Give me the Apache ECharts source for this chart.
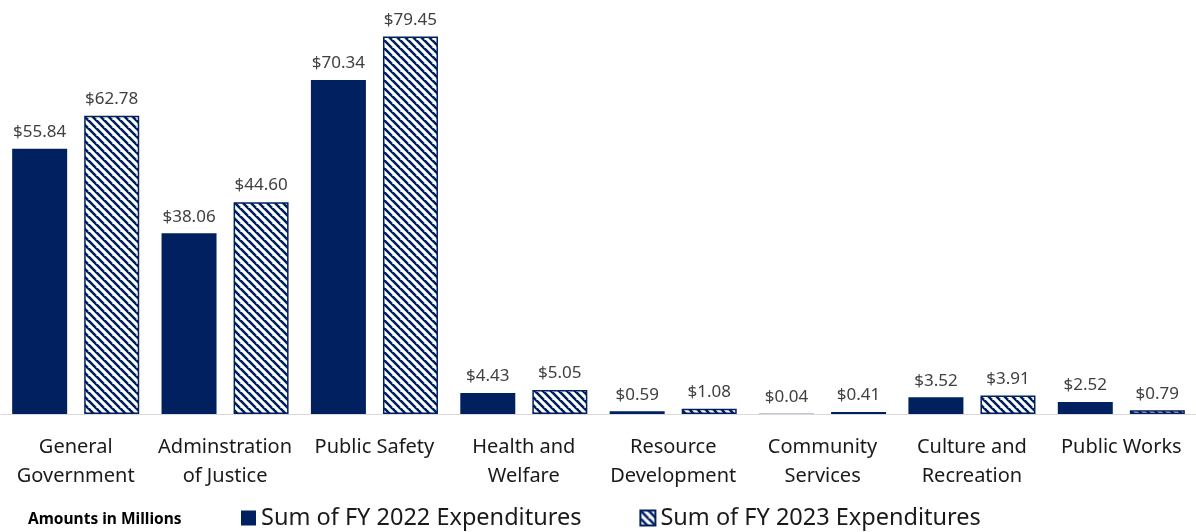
<!DOCTYPE html>
<html><head><meta charset="utf-8">
<script src="https://cdn.jsdelivr.net/npm/echarts@6/dist/echarts.min.js"></script>
<style>html,body{margin:0;padding:0;background:#fff}#c{width:1196px;height:532px}</style>
</head><body><div id="c"></div>
<script>
const categories = ["General\nGovernment","Adminstration\nof Justice","Public Safety","Health and\nWelfare","Resource\nDevelopment","Community\nServices","Culture and\nRecreation","Public Works"];
const fy2022 = [55.84, 38.06, 70.34, 4.43, 0.59, 0.04, 3.52, 2.52];
const fy2023 = [62.78, 44.60, 79.45, 5.05, 1.08, 0.41, 3.91, 0.79];
const seriesNames = ["Sum of FY 2022 Expenditures","Sum of FY 2023 Expenditures"];

const NAVY = '#002060';
const FONT = '"Noto Sans", sans-serif';
function hatch(){
  const s = 8;
  const cv = document.createElement('canvas');
  cv.width = s; cv.height = s;
  const ctx = cv.getContext('2d');
  ctx.fillStyle = '#fff'; ctx.fillRect(0,0,s,s);
  ctx.strokeStyle = NAVY; ctx.lineWidth = 2.6;
  ctx.beginPath();
  ctx.moveTo(-s,-s); ctx.lineTo(s*2,s*2);
  ctx.moveTo(-s,0); ctx.lineTo(0,s);
  ctx.moveTo(s,0); ctx.lineTo(2*s,s);
  ctx.moveTo(0,-s); ctx.lineTo(s,0);
  ctx.moveTo(-s/2,-s/2); ctx.lineTo(0,0);
  ctx.stroke();
  return cv;
}
const chart = echarts.init(document.getElementById('c'));
const lbl = {show:true, position:'top', distance:8, color:'#404040', fontSize:17, fontFamily:FONT,
  formatter: p => '$' + p.value.toFixed(2)};
chart.setOption({
  animation:false,
  grid:{left:1, right:0, top:34, bottom:118},
  legend:{top:501, left:236, itemWidth:15, itemHeight:15, itemGap:58, icon:'rect',
    textStyle:{fontSize:23.5, color:'#1a1a1a', fontFamily:FONT}},
  graphic:[{type:'text', left:28, top:512, style:{text:'Amounts in Millions', font:'bold 15.5px "Noto Sans", sans-serif', fill:'#000'}}],
  xAxis:{type:'category', data:categories,
    axisLine:{lineStyle:{color:'#d9d9d9', width:1}}, axisTick:{show:false},
    axisLabel:{interval:0, fontSize:20, lineHeight:29, color:'#1a1a1a', fontFamily:FONT, margin:19, verticalAlign:'top'}},
  yAxis:{type:'value', min:0, max:80, show:false, splitLine:{show:false}},
  series:[
    {name:seriesNames[0], type:'bar', data:fy2022, barWidth:55, barGap:'31%', itemStyle:{color:NAVY}, label:lbl},
    {name:seriesNames[1], type:'bar', data:fy2023, barWidth:55, itemStyle:{color:{image:hatch(), repeat:'repeat'}, borderColor:NAVY, borderWidth:1.5}, label:lbl}
  ]
});
</script></body></html>
